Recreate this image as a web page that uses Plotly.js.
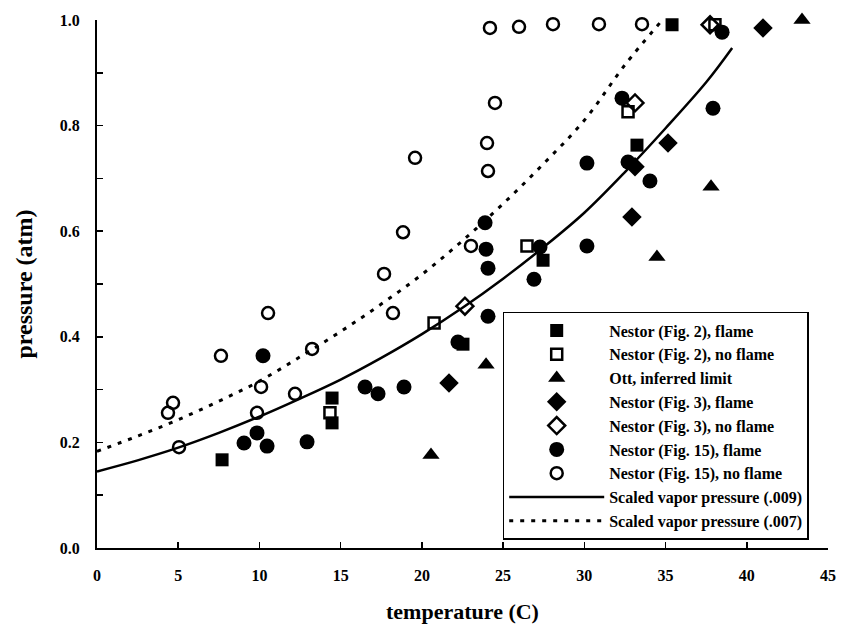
<!DOCTYPE html>
<html>
<head>
<meta charset="utf-8">
<script src="https://cdn.plot.ly/plotly-3.0.1.min.js"></script>
<style>html,body{margin:0;padding:0;background:#fff;}#chart{width:841px;height:629px;}</style>
</head>
<body>
<div id="chart"></div>
<script>
// Nestor (Fig. 2), flame
const fig2FlameX = [7.70, 14.47, 14.47, 22.53, 27.46, 33.24, 35.40];
const fig2FlameY = [0.167, 0.284, 0.237, 0.386, 0.545, 0.763, 0.991];
// Nestor (Fig. 2), no flame
const fig2NoX = [14.34, 20.75, 26.47, 32.69, 38.04];
const fig2NoY = [0.256, 0.426, 0.572, 0.826, 0.991];
// Ott, inferred limit
const ottX = [20.56, 23.95, 34.47, 37.80, 43.40];
const ottY = [0.176, 0.347, 0.551, 0.684, 1.0];
// Nestor (Fig. 3), flame
const fig3FlameX = [21.67, 32.93, 33.12, 35.15, 41.0];
const fig3FlameY = [0.3125, 0.627, 0.722, 0.767, 0.985];
// Nestor (Fig. 3), no flame
const fig3NoX = [22.65, 33.12, 37.74];
const fig3NoY = [0.458, 0.843, 0.991];
// Nestor (Fig. 15), flame
const fig15FlameX = [10.22, 9.05, 9.85, 10.47, 12.93, 16.50, 17.30, 18.90, 22.22, 24.07, 23.89, 23.95, 24.07, 26.90, 27.27, 30.16, 30.16, 32.32, 32.69, 34.04, 37.92, 38.48];
const fig15FlameY = [0.364, 0.199, 0.218, 0.193, 0.201, 0.305, 0.292, 0.305, 0.390, 0.439, 0.616, 0.566, 0.530, 0.509, 0.570, 0.729, 0.572, 0.852, 0.731, 0.695, 0.833, 0.977];
// Nestor (Fig. 15), no flame
const fig15NoX = [10.53, 7.63, 4.68, 4.37, 5.05, 10.10, 9.85, 12.19, 13.24, 18.22, 17.67, 18.84, 19.58, 23.02, 24.01, 24.07, 24.50, 24.19, 25.98, 28.07, 30.90, 33.55];
const fig15NoY = [0.445, 0.364, 0.275, 0.256, 0.191, 0.305, 0.256, 0.292, 0.377, 0.445, 0.519, 0.598, 0.739, 0.572, 0.767, 0.714, 0.843, 0.985, 0.987, 0.992, 0.992, 0.992];
// Scaled vapor pressure (.009)
const vp009X = [0, 2.5, 5, 7.5, 10, 12.5, 15, 17.5, 20, 22.5, 25, 27.5, 30, 32.5, 35, 37.5, 39.1];
const vp009Y = [0.145, 0.166, 0.19, 0.218, 0.249, 0.283, 0.319, 0.36, 0.405, 0.455, 0.51, 0.57, 0.635, 0.712, 0.795, 0.882, 0.947];
// Scaled vapor pressure (.007)
const vp007X = [0, 2.5, 5, 7.5, 10, 12.5, 15, 17.5, 20, 22.5, 25, 27.5, 30, 32.5, 34.8];
const vp007Y = [0.183, 0.212, 0.243, 0.278, 0.316, 0.362, 0.41, 0.462, 0.518, 0.582, 0.652, 0.728, 0.81, 0.915, 1.0];

const FONT = 'Liberation Serif, Times New Roman, serif';
function pts(x, y, name, symbol, size, lw) {
  return {
    x: x, y: y, name: name, type: 'scatter', mode: 'markers', cliponaxis: false,
    marker: {symbol: symbol, size: size, color: '#000', line: {color: '#000', width: lw || 0}}
  };
}
const data = [
  pts(fig2FlameX, fig2FlameY, 'Nestor (Fig. 2), flame', 'square', 13),
  pts(fig2NoX, fig2NoY, 'Nestor (Fig. 2), no flame', 'square-open', 11, 2.5),
  pts(ottX, ottY, 'Ott, inferred limit', 'triangle-up', 15),
  pts(fig3FlameX, fig3FlameY, 'Nestor (Fig. 3), flame', 'diamond', 15),
  pts(fig3NoX, fig3NoY, 'Nestor (Fig. 3), no flame', 'diamond-open', 13, 2.5),
  pts(fig15FlameX, fig15FlameY, 'Nestor (Fig. 15), flame', 'circle', 15),
  pts(fig15NoX, fig15NoY, 'Nestor (Fig. 15), no flame', 'circle-open', 12, 2.5),
  {x: vp009X, y: vp009Y, name: 'Scaled vapor pressure (.009)', type: 'scatter', mode: 'lines',
   line: {color: '#000', width: 2.5, shape: 'spline'}},
  {x: vp007X, y: vp007Y, name: 'Scaled vapor pressure (.007)', type: 'scatter', mode: 'lines',
   line: {color: '#000', width: 3, dash: '4px,7px', shape: 'spline'}}
];
const layout = {
  width: 841, height: 629,
  margin: {l: 97, r: 13, t: 20, b: 81},
  paper_bgcolor: '#fff', plot_bgcolor: '#fff',
  font: {family: FONT, color: '#000', size: 15, weight: 'bold'},
  showlegend: true,
  legend: {
    x: 0.555, y: 0.447, xanchor: 'left', yanchor: 'top',
    bordercolor: '#000', borderwidth: 1.5, bgcolor: '#fff',
    font: {family: FONT, size: 16, color: '#000', weight: 'bold'},
    itemwidth: 95, tracegroupgap: 0, entrywidth: 330, entrywidthmode: 'pixels'
  },
  xaxis: {
    range: [0, 45], dtick: 5, tick0: 0, showgrid: false, zeroline: false,
    showline: true, linecolor: '#000', linewidth: 2,
    ticks: 'inside', ticklen: 6, tickwidth: 1.5, tickcolor: '#000',
    ticklabelstandoff: 12,
    tickfont: {family: FONT, size: 16, weight: 'bold'},
    title: {text: 'temperature (C)', font: {family: FONT, size: 22, weight: 'bold'}, standoff: 20}
  },
  yaxis: {
    range: [0, 1], dtick: 0.2, tick0: 0, tickformat: '.1f', showgrid: false, zeroline: false,
    showline: true, linecolor: '#000', linewidth: 2,
    ticks: 'inside', ticklen: 6, tickwidth: 1.5, tickcolor: '#000',
    minor: {dtick: 0.1, ticks: 'inside', ticklen: 6, tickwidth: 1.5, tickcolor: '#000', showgrid: false},
    ticklabelstandoff: 12,
    tickfont: {family: FONT, size: 16, weight: 'bold'},
    title: {text: 'pressure (atm)', font: {family: FONT, size: 24, weight: 'bold'}, standoff: 20}
  }
};
Plotly.newPlot('chart', data, layout, {displayModeBar: false, staticPlot: true});
</script>
</body>
</html>
